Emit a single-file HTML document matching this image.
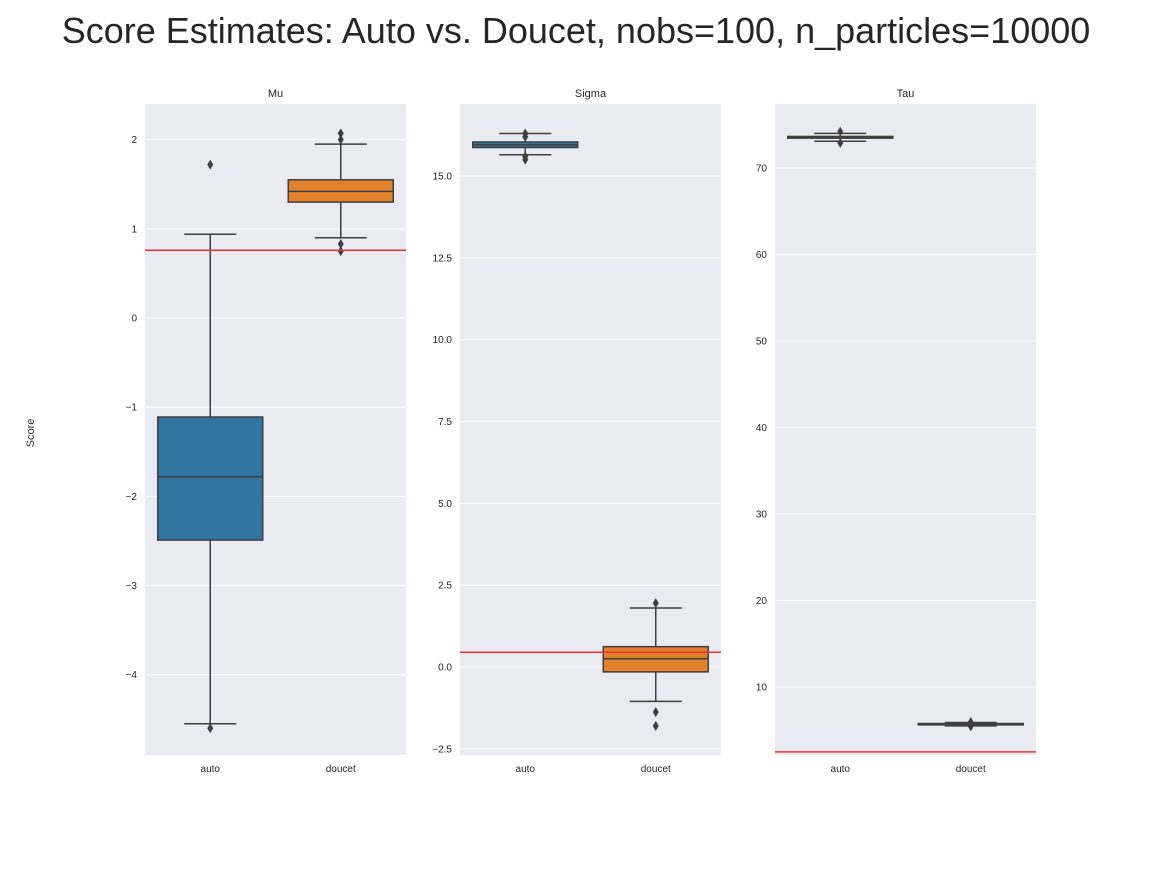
<!DOCTYPE html>
<html><head><meta charset="utf-8"><style>
body{margin:0;background:#fff;font-family:"Liberation Sans",sans-serif}
</style></head><body>
<svg id="c" width="1152" height="864" xmlns="http://www.w3.org/2000/svg">
<text x="576" y="43" text-anchor="middle" font-size="36" fill="#262626">Score Estimates: Auto vs. Doucet, nobs=100, n_particles=10000</text>
<text transform="translate(34,433) rotate(-90)" text-anchor="middle" font-size="11" fill="#262626">Score</text>
</svg>
<script>
const panelTitles=["Mu","Sigma","Tau"];
const categories=["auto","doucet"];
const yDomains=[[-4.9,2.4],[-2.69,17.2],[2.14,77.4]];
const yTicks=[[-4,-3,-2,-1,0,1,2],[-2.5,0,2.5,5,7.5,10,12.5,15],[10,20,30,40,50,60,70]];
const tickLabels=[["−4","−3","−2","−1","0","1","2"],["−2.5","0.0","2.5","5.0","7.5","10.0","12.5","15.0"],["10","20","30","40","50","60","70"]];
// [whiskerLow,q1,median,q3,whiskerHigh] per category
const muStats=[[-4.55,-2.49,-1.78,-1.11,0.94],[0.9,1.3,1.42,1.55,1.95]];
const sigmaStats=[[15.65,15.87,15.95,16.04,16.3],[-1.05,-0.15,0.25,0.62,1.8]];
const tauStats=[[73.1,73.45,73.55,73.65,74.0],[5.5,5.62,5.7,5.78,5.9]];
const muOutliers=[[1.72,-4.6],[2.07,2.0,0.83,0.75]];
const sigmaOutliers=[[16.3,16.2,15.5,15.6],[1.95,-1.38,-1.8]];
const tauOutliers=[[74.2,72.9],[5.95,5.45]];
const trueValues=[0.76,0.45,2.5];
const stats=[muStats,sigmaStats,tauStats];
const outliers=[muOutliers,sigmaOutliers,tauOutliers];
const colors=["#3274a1","#e1812c"];
const svg=document.getElementById('c');
const NS="http://www.w3.org/2000/svg";
function mk(t,a,p){const e=document.createElementNS(NS,t);for(const k in a)e.setAttribute(k,a[k]);(p||svg).appendChild(e);return e;}
const lefts=[145,460,775],W=261,T=104,B=755;
for(let p=0;p<3;p++){
  const L=lefts[p],d=yDomains[p];
  const y=v=>B-(v-d[0])/(d[1]-d[0])*(B-T);
  const x=i=>L+W*(i+0.5)/2;
  const g=mk('g',{});
  
  
  const bg=mk('rect',{x:L,y:T,width:W,height:B-T,fill:'#eaeaf2'},g);
  
  
  yTicks[p].forEach((v,i)=>{
    const gl=mk('line',{x1:L,x2:L+W,y1:y(v),y2:y(v),stroke:'#fff','stroke-width':1},g);
    
    
    const t=mk('text',{x:L-8,y:y(v)+3.5,'text-anchor':'end','font-size':10,fill:'#262626'},g);
    t.textContent=tickLabels[p][i];
    
    
  });
  const ti=mk('text',{x:L+W/2,y:T-7,'text-anchor':'middle','font-size':11,fill:'#262626'},g);
  ti.textContent=panelTitles[p];
  
  
  categories.forEach((c,i)=>{
    const cx=x(i),s=stats[p][i],bw=105,cw=52;
    const t=mk('text',{x:cx,y:B+17,'text-anchor':'middle','font-size':10,fill:'#262626'},g);
    t.textContent=c;
    
    
    const bx=mk('g',{stroke:'#3f3f3f','stroke-width':1.5},g);
    
    
    mk('line',{x1:cx,x2:cx,y1:y(s[0]),y2:y(s[1])},bx);
    mk('line',{x1:cx,x2:cx,y1:y(s[3]),y2:y(s[4])},bx);
    mk('line',{x1:cx-cw/2,x2:cx+cw/2,y1:y(s[0]),y2:y(s[0])},bx);
    mk('line',{x1:cx-cw/2,x2:cx+cw/2,y1:y(s[4]),y2:y(s[4])},bx);
    mk('rect',{x:cx-bw/2,y:y(s[3]),width:bw,height:Math.max(1,y(s[1])-y(s[3])),fill:colors[i]},bx);
    mk('line',{x1:cx-bw/2,x2:cx+bw/2,y1:y(s[2]),y2:y(s[2])},bx);
    outliers[p][i].forEach(v=>{
      const o=mk('path',{d:`M${cx} ${y(v)-5}L${cx+3} ${y(v)}L${cx} ${y(v)+5}L${cx-3} ${y(v)}Z`,fill:'#3f3f3f',stroke:'none'},g);
      
      
    });
  });
  const r=mk('line',{x1:L,x2:L+W,y1:y(trueValues[p]),y2:y(trueValues[p]),stroke:'#f03030','stroke-width':1.5},g);
  
  
}
</script>
</body></html>
